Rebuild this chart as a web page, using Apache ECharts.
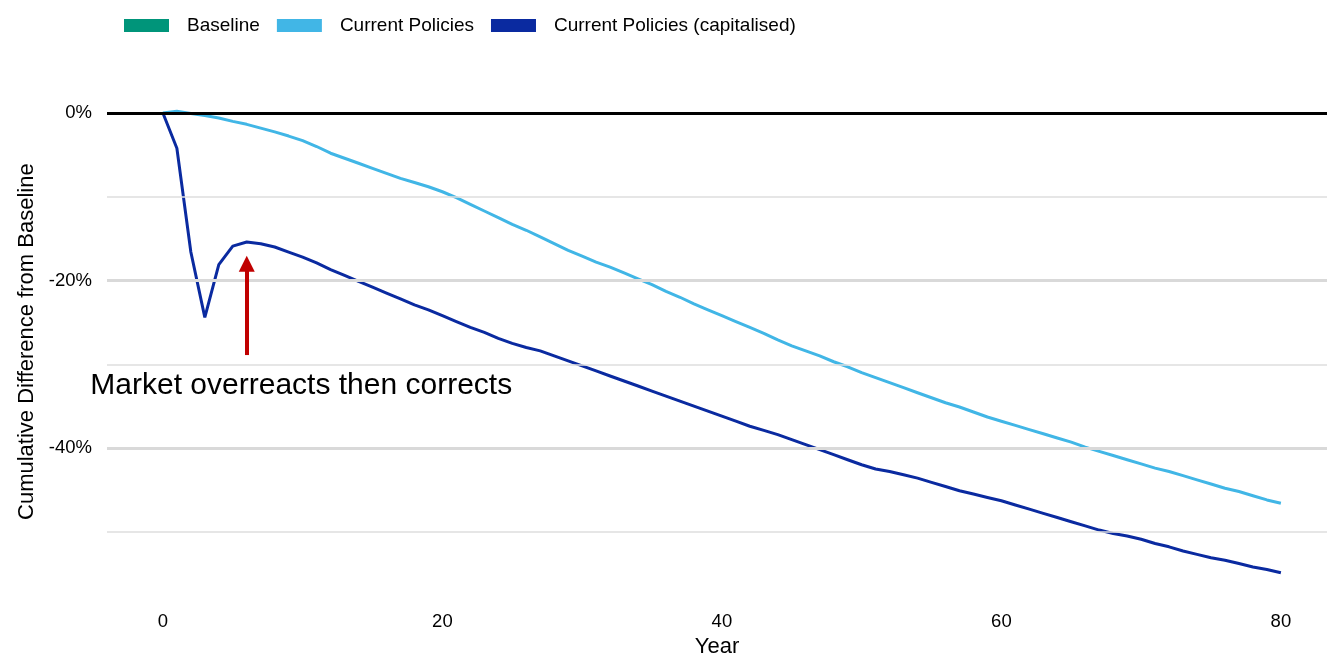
<!DOCTYPE html>
<html>
<head>
<meta charset="utf-8">
<script src="https://cdn.jsdelivr.net/npm/echarts@6/dist/echarts.min.js"></script>
<style>
html,body{margin:0;padding:0;background:#fff;}
#chart{width:1327px;height:657px;}
</style>
</head>
<body>
<div id="chart"></div>
<script>
const years = Array.from({length: 81}, (_, i) => i);
const baseline = years.map(() => 0);
const currentPolicies = [
  0, 0.2, -0.05, -0.3, -0.6, -1.0, -1.35, -1.8, -2.25, -2.75,
  -3.3, -4.0, -4.8, -5.4, -6.0, -6.6, -7.2, -7.8, -8.3, -8.8,
  -9.4, -10.1, -10.9, -11.7, -12.5, -13.3, -14.0, -14.8, -15.6, -16.4,
  -17.1, -17.8, -18.4, -19.1, -19.8, -20.5, -21.3, -22.0, -22.8, -23.5,
  -24.2, -24.9, -25.6, -26.3, -27.1, -27.8, -28.4, -29.0, -29.7, -30.3,
  -31.0, -31.6, -32.2, -32.8, -33.4, -34.0, -34.6, -35.1, -35.7, -36.3,
  -36.8, -37.3, -37.8, -38.3, -38.8, -39.3, -39.9, -40.4, -40.9, -41.4,
  -41.9, -42.4, -42.8, -43.3, -43.8, -44.3, -44.8, -45.2, -45.7, -46.2,
  -46.6
];
const currentPoliciesCap = [
  0, -4.2, -16.6, -24.4, -18.1, -15.9, -15.4, -15.6, -16.0, -16.6,
  -17.2, -17.9, -18.7, -19.4, -20.1, -20.8, -21.5, -22.2, -22.9, -23.5,
  -24.2, -24.9, -25.6, -26.2, -26.9, -27.5, -28.0, -28.4, -29.0, -29.6,
  -30.2, -30.8, -31.4, -32.0, -32.6, -33.2, -33.8, -34.4, -35.0, -35.6,
  -36.2, -36.8, -37.4, -37.9, -38.4, -39.0, -39.6, -40.2, -40.8, -41.4,
  -42.0, -42.5, -42.8, -43.2, -43.6, -44.1, -44.6, -45.1, -45.5, -45.9,
  -46.3, -46.8, -47.3, -47.8, -48.3, -48.8, -49.3, -49.8, -50.2, -50.5,
  -50.9, -51.4, -51.8, -52.3, -52.7, -53.1, -53.4, -53.8, -54.2, -54.5,
  -54.9
];
const seriesNames = ['Baseline', 'Current Policies', 'Current Policies (capitalised)'];
const majorGrid = [-20, -40];
const minorGrid = [-10, -30, -50];
const annotationText = 'Market overreacts then corrects';
const arrowFrom = [6, -28.9];
const arrowTo = [6, -18.0];
const annotationAt = [9.9, -32.6];

const font = 'Liberation Sans, Arial, sans-serif';
const pair = arr => years.map((y, i) => [y, arr[i]]);

const gridLines = []
  .concat(minorGrid.map(v => ({yAxis: v, lineStyle: {color: '#dedede', width: 1.5, type: 'solid'}})))
  .concat(majorGrid.map(v => ({yAxis: v, lineStyle: {color: '#d9d9d9', width: 3, type: 'solid'}})));

const chart = echarts.init(document.getElementById('chart'), null, {renderer: 'canvas'});
chart.setOption({
  animation: false,
  backgroundColor: '#ffffff',
  textStyle: {fontFamily: font},
  legend: {
    data: seriesNames,
    left: 119, top: 11,
    icon: 'rect',
    itemWidth: 45, itemHeight: 13, itemGap: 17,
    textStyle: {fontSize: 19, color: '#000', fontFamily: font, padding: [0, 0, 0, 13]}
  },
  grid: {left: 107, right: 0, top: 87.9, bottom: 61.6, containLabel: false, outerBoundsMode: 'none'},
  xAxis: {
    type: 'value', min: -4, max: 83.3,
    name: 'Year', nameLocation: 'middle', nameGap: 41,
    nameTextStyle: {fontSize: 22, color: '#000', fontFamily: font},
    axisLine: {show: false}, axisTick: {show: false}, splitLine: {show: false},
    axisLabel: {
      fontSize: 18.5, color: '#000', margin: 17, fontFamily: font,
      showMinLabel: false, showMaxLabel: false,
      formatter: v => (Math.abs(v % 20) < 1e-9 ? String(v) : '')
    }
  },
  yAxis: {
    type: 'value', min: -57.6, max: 3,
    name: 'Cumulative Difference from Baseline', nameLocation: 'middle', nameGap: 68,
    nameTextStyle: {fontSize: 22, color: '#000', fontFamily: font},
    axisLine: {show: false}, axisTick: {show: false}, splitLine: {show: false},
    axisLabel: {
      fontSize: 18.5, color: '#000', margin: 15, fontFamily: font,
      showMinLabel: false, showMaxLabel: false,
      formatter: v => (Math.abs(v % 20) < 1e-9 ? (Math.abs(v) < 1e-9 ? '0' : String(v)) + '%' : '')
    }
  },
  series: [
    {
      name: 'gridlines', type: 'line', data: [], silent: true, z: 1,
      markLine: {silent: true, symbol: ['none', 'none'], label: {show: false}, data: gridLines, animation: false}
    },
    {
      name: seriesNames[0], type: 'line', data: pair(baseline), showSymbol: false, z: 2,
      itemStyle: {color: '#00957A'}, lineStyle: {color: '#00957A', width: 2}
    },
    {
      name: seriesNames[1], type: 'line', data: pair(currentPolicies), showSymbol: false, z: 3,
      itemStyle: {color: '#41B6E6'}, lineStyle: {color: '#41B6E6', width: 3}
    },
    {
      name: seriesNames[2], type: 'line', data: pair(currentPoliciesCap), showSymbol: false, z: 4,
      itemStyle: {color: '#0A2AA0'}, lineStyle: {color: '#0A2AA0', width: 3}
    },
    {
      name: 'zero', type: 'line', data: [], silent: true, z: 5,
      markLine: {silent: true, symbol: ['none', 'none'], label: {show: false},
        data: [{yAxis: 0, lineStyle: {color: '#000', width: 3, type: 'solid'}}], animation: false}
    },
    {
      name: 'annotation', type: 'line', data: [], silent: true, z: 6,
      markLine: {
        silent: true, symbol: ['none', 'triangle'], symbolSize: [16, 16], label: {show: false},
        data: [[{coord: arrowFrom}, {coord: arrowTo}]],
        lineStyle: {color: '#C00000', width: 4, type: 'solid'}, animation: false
      },
      markPoint: {
        silent: true, symbol: 'circle', symbolSize: 0,
        data: [{coord: annotationAt, value: annotationText}],
        label: {show: true, position: 'inside', formatter: annotationText, fontSize: 30, color: '#000', fontFamily: font}
      }
    }
  ]
});
</script>
</body>
</html>
